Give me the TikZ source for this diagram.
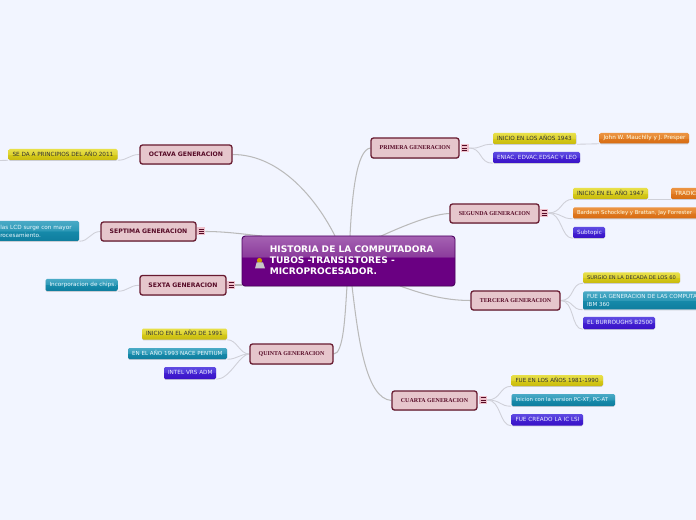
\documentclass[tikz,border=0pt]{standalone}
\usepackage{fontspec}
\setmainfont{DejaVu Sans}
\newfontfamily\serifb{Liberation Serif}
\usetikzlibrary{backgrounds,shadows,calc}
\definecolor{pagebg}{HTML}{F2F5FF}
\definecolor{mainfill}{HTML}{E6C6CC}
\definecolor{mainline}{HTML}{681A30}
\definecolor{maintext}{HTML}{560A26}
\definecolor{linkmain}{HTML}{BABABA}
\definecolor{linkleaf}{HTML}{CFD0D8}
\definecolor{xpfill}{HTML}{EFC2CC}
\definecolor{cenline}{HTML}{4C0060}
\definecolor{yA}{HTML}{C8BA10}\definecolor{yB}{HTML}{D6CA18}\definecolor{yC}{HTML}{DDD230}\definecolor{yD}{HTML}{E8E04A}
\definecolor{tA}{HTML}{0F7D9E}\definecolor{tB}{HTML}{168AAA}\definecolor{tC}{HTML}{2C98B6}\definecolor{tD}{HTML}{4AAAC6}
\definecolor{vA}{HTML}{3A12C8}\definecolor{vB}{HTML}{4220D0}\definecolor{vC}{HTML}{4C32D8}\definecolor{vD}{HTML}{5E4AE2}
\definecolor{oA}{HTML}{D86C12}\definecolor{oB}{HTML}{DE7820}\definecolor{oC}{HTML}{E4842E}\definecolor{oD}{HTML}{EC9442}
\definecolor{cA}{HTML}{6A0082}\definecolor{cC}{HTML}{8B3C9C}\definecolor{cD}{HTML}{A562B2}
\pgfdeclareverticalshading{ylwsh}{100bp}{color(0bp)=(yA);color(25bp)=(yA);color(50bp)=(yB);color(50.1bp)=(yC);color(75bp)=(yD);color(100bp)=(yD)}
\pgfdeclareverticalshading{tealsh}{100bp}{color(0bp)=(tA);color(25bp)=(tA);color(50bp)=(tB);color(50.1bp)=(tC);color(75bp)=(tD);color(100bp)=(tD)}
\pgfdeclareverticalshading{violsh}{100bp}{color(0bp)=(vA);color(25bp)=(vA);color(50bp)=(vB);color(50.1bp)=(vC);color(75bp)=(vD);color(100bp)=(vD)}
\pgfdeclareverticalshading{orgsh}{100bp}{color(0bp)=(oA);color(25bp)=(oA);color(50bp)=(oB);color(50.1bp)=(oC);color(75bp)=(oD);color(100bp)=(oD)}
\pgfdeclareverticalshading{censh}{100bp}{color(0bp)=(cA);color(25bp)=(cA);color(54bp)=(cA);color(54.1bp)=(cC);color(75bp)=(cD);color(100bp)=(cD)}
\tikzset{
  x=0.75pt,y=-0.75pt,
  softshadow/.style={drop shadow={shadow xshift=0pt,shadow yshift=-0.7pt,fill=black!55,opacity=.3}},
  leafbox/.style={rectangle,rounded corners=1.1pt,inner sep=0pt,softshadow,font=\fontsize{4.28pt}{5.9pt}\selectfont},
  narrowa/.style={font=\fontsize{4.02pt}{5.9pt}\selectfont},
  narrowb/.style={font=\fontsize{3.85pt}{5.9pt}\selectfont},
  narrowc/.style={font=\fontsize{4.2pt}{5.9pt}\selectfont},
  ylwleaf/.style={leafbox,shading=ylwsh,text=black!80},
  tealleaf/.style={leafbox,shading=tealsh,text=white!92!cyan},
  violleaf/.style={leafbox,shading=violsh,text=white!92!blue},
  orgleaf/.style={leafbox,shading=orgsh,text=white!90!yellow},
  genbox/.style={rectangle,rounded corners=1.9pt,draw=mainline,line width=0.95pt,fill=mainfill,inner sep=0pt,softshadow,text=maintext,align=center},
  sansgen/.style={genbox,font=\fontsize{4.6pt}{5.6pt}\selectfont\bfseries},
  serifgen/.style={genbox,font=\fontsize{4.45pt}{5.6pt}\selectfont\serifb\bfseries},
  cenbox/.style={rectangle,rounded corners=2.4pt,draw=cenline,line width=0.7pt,shading=censh,inner sep=0pt,softshadow,text=white,font=\fontsize{6.8pt}{8.25pt}\selectfont\bfseries},
  xpbox/.style={rectangle,fill=xpfill,inner sep=0pt,minimum width=6pt,minimum height=6pt,
    path picture={\draw[maintext,line width=0.5pt]
      ($(path picture bounding box.center)+(-2.5,-2.3)$)--+(5,0)
      ($(path picture bounding box.center)+(-2.5,0)$)--+(5,0)
      ($(path picture bounding box.center)+(-2.5,2.3)$)--+(5,0);}},
  mainlink/.style={draw=linkmain,line width=0.78pt},
  leaflink/.style={draw=linkleaf,line width=0.65pt},
}
% name, style, x1, y1, x2, y2, text (left aligned, never wrapped)
\newcommand{\bx}[7]{%
  \pgfmathsetmacro{\bw}{(#5-#3)*0.75}%
  \pgfmathsetmacro{\bh}{(#6-#4)*0.75}%
  \pgfmathsetmacro{\tw}{(#5-#3-8)*0.75}%
  \node[#2,minimum width=\bw pt,minimum height=\bh pt] (#1) at ({(#3+#5)/2},{(#4+#6)/2}) {\makebox[\tw pt][l]{\begin{tabular}{@{}l@{}}#7\end{tabular}}};}
% name, style, x1, y1, x2, y2, text (centred)
\newcommand{\gx}[7]{%
  \pgfmathsetmacro{\bw}{(#5-#3)*0.75}%
  \pgfmathsetmacro{\bh}{(#6-#4)*0.75}%
  \node[#2,minimum width=\bw pt,minimum height=\bh pt] (#1) at ({(#3+#5)/2},{(#4+#6)/2}) {#7};}
\begin{document}
\begin{tikzpicture}
\useasboundingbox (0,0) rectangle (696,520);
\clip (0,0) rectangle (696,520);

% central topic
\node[cenbox,minimum width=159.75pt,minimum height=37.5pt] (ctr) at (348.5,261) {\makebox[156pt][l]{\hspace*{19pt}\begin{tabular}{@{}l@{}}HISTORIA DE LA COMPUTADORA\\TUBOS -TRANSISTORES -\\MICROPROCESADOR.\end{tabular}}};
\coordinate (cO) at (335,236);
\coordinate (cP) at (350,236);
\coordinate (cG) at (380,236);
\coordinate (cT) at (400,286);
\coordinate (cC) at (352,286);
\coordinate (cQ) at (347,286);
\coordinate (cS) at (262,236);
\coordinate (cX) at (242,285);
\coordinate (offL) at (0,160.5);
% icon on the central topic
\fill[orange!50!yellow!80!black] (259.5,260.5) circle (2.6);
\fill[black!22] (255,268.5) -- (256.6,262.5) -- (263,262.5) -- (265,268.5) -- cycle;

% generations
\gx{oct}{sansgen}{140}{145}{232}{164}{OCTAVA GENERACION}
\gx{sep}{sansgen}{101}{222}{196}{241}{SEPTIMA GENERACION}
\gx{sex}{sansgen}{140}{275.5}{226}{295}{SEXTA GENERACION}
\gx{pri}{serifgen}{371}{138}{459}{158}{PRIMERA GENERACION}
\gx{seg}{serifgen}{450}{204}{539}{223}{SEGUNDA GENERACION}
\gx{ter}{serifgen}{471}{291}{560}{310}{TERCERA GENERACION}
\gx{cua}{serifgen}{392}{391}{477}{410}{CUARTA GENERACION}
\gx{qui}{serifgen}{250}{344}{333}{364}{QUINTA GENERACION}

% expanders
\node[xpbox] (xsep) at (201,231.5) {};
\node[xpbox] (xsex) at (231,285) {};
\node[xpbox] (xpri) at (464.5,148) {};
\node[xpbox] (xseg) at (544,213) {};
\node[xpbox] (xcua) at (483,400) {};

% leaves
\bx{l1}{ylwleaf}{8.5}{149}{117.5}{160}{SE DA A PRINCIPIOS DEL AÑO 2011}
\node[leafbox,shading=tealsh,minimum width=66.75pt,minimum height=15pt] (l2) at (34.5,231) {};
\node[anchor=west,inner sep=0pt,text=white!92!cyan,font=\fontsize{4.28pt}{5.9pt}\selectfont,align=left] (l2t) at (0,231) {las LCD surge con mayor\\rocesamiento.};
\bx{l3}{tealleaf}{45.5}{279}{117.5}{291}{Incorporacion de chips.}
\bx{a1}{ylwleaf}{493}{133}{576.5}{144}{INICIO EN LOS AÑOS 1943}
\bx{a2}{orgleaf}{599.5}{133}{689}{143.5}{John W. Mauchlly y J. Presper}
\bx{a3}{violleaf}{493}{152}{580}{163}{ENIAC, EDVAC,EDSAC Y LEO}
\bx{b1}{ylwleaf}{573}{188}{648}{199}{INICIO EN EL AÑO 1947}
\bx{b2}{orgleaf}{671}{188}{730}{199}{TRADIC}
\bx{b3}{orgleaf,narrowa}{573}{207.5}{712}{218.5}{Bardeen Schockley y Brattan, Jay Forrester}
\bx{b4}{violleaf}{573}{227}{605}{238}{Subtopic}
\bx{c1}{ylwleaf,narrowb}{583}{272.5}{680}{283}{SURGIO EN LA DECADA DE LOS 60}
\bx{c2}{tealleaf,narrowc}{583}{291.5}{760}{309.5}{FUE LA GENERACION DE LAS COMPUTA\\IBM 360}
\bx{c3}{violleaf}{583}{317}{655}{329}{EL BURROUGHS B2500}
\bx{d1}{ylwleaf,narrowc}{511.5}{375}{603}{386}{FUE EN LOS AÑOS 1981-1990}
\bx{d2}{tealleaf,narrowa}{511.5}{394}{615}{406}{Inicion con la version PC-XT, PC-AT}
\bx{d3}{violleaf}{511.5}{414}{583}{425.5}{FUE CREADO LA IC LSI}
\bx{e1}{ylwleaf}{142}{328.5}{227}{339.5}{INICIO EN EL AÑO DE 1991}
\bx{e2}{tealleaf,narrowc}{128}{348}{227}{359}{EN EL AÑO 1993 NACE PENTIUM}
\bx{e3}{violleaf}{164}{367}{216}{379}{INTEL VRS ADM}

\begin{pgfonlayer}{background}
\clip (0,0) rectangle (696,520);
\fill[pagebg] (0,0) rectangle (696,520);
% central links
\path[mainlink] (oct.east) .. controls +(48,0) and +(-18,-36) .. (cO);
\path[mainlink] (pri.west) .. controls +(-14,2) and +(2,-40) .. (cP);
\path[mainlink] (seg.west) .. controls +(-28,1) and +(-18,10) .. (cG);
\path[mainlink] (ter.west) .. controls +(-28,0) and +(20,7) .. (cT);
\path[mainlink] (cua.west) .. controls +(-26,-2) and +(6,50) .. (cC);
\path[mainlink] (qui.east) .. controls +(10,0) and +(-2,30) .. (cQ);
\path[mainlink] (xsep.east) .. controls +(20,0) and +(-20,-2) .. (cS);
\path[mainlink] (xsex.east) -- (cX);
% leaf links
\path[leaflink] (xpri.east) .. controls +(14,1) and +(-14,0) .. (a1.south west);
\path[leaflink] (xpri.east) .. controls +(14,0) and +(-14,0) .. (a3.south west);
\path[leaflink] (a1.south east) -- (a2.south west);
\path[leaflink] (xseg.east) .. controls +(14,0) and +(-12,0) .. (b1.south west);
\path[leaflink] (xseg.east) .. controls +(14,0) and +(-12,0) .. (b3.south west);
\path[leaflink] (xseg.east) .. controls +(14,0) and +(-12,0) .. (b4.south west);
\path[leaflink] (b1.south east) -- (b2.south west);
\path[leaflink] (ter.east) .. controls +(14,0) and +(-12,0) .. (c1.south west);
\path[leaflink] (ter.east) .. controls +(14,0) and +(-12,0) .. (c2.south west);
\path[leaflink] (ter.east) .. controls +(14,0) and +(-12,0) .. (c3.south west);
\path[leaflink] (xcua.east) .. controls +(14,0) and +(-12,0) .. (d1.south west);
\path[leaflink] (xcua.east) .. controls +(14,0) and +(-12,0) .. (d2.south west);
\path[leaflink] (xcua.east) .. controls +(14,0) and +(-12,0) .. (d3.south west);
\path[leaflink] (qui.west) .. controls +(-10,0) and +(10,0) .. (e1.south east);
\path[leaflink] (qui.west) .. controls +(-10,0) and +(10,0) .. (e2.south east);
\path[leaflink] (qui.west) .. controls +(-10,0) and +(14,0) .. (e3.south east);
\path[leaflink] (oct.west) .. controls +(-10,0) and +(10,0) .. (l1.south east);
\path[leaflink] (l1.south west) -- (offL);
\path[leaflink] (sep.west) .. controls +(-10,0) and +(10,0) .. (l2.south east);
\path[leaflink] (sex.west) .. controls +(-10,0) and +(10,0) .. (l3.south east);
\end{pgfonlayer}
\end{tikzpicture}
\end{document}
